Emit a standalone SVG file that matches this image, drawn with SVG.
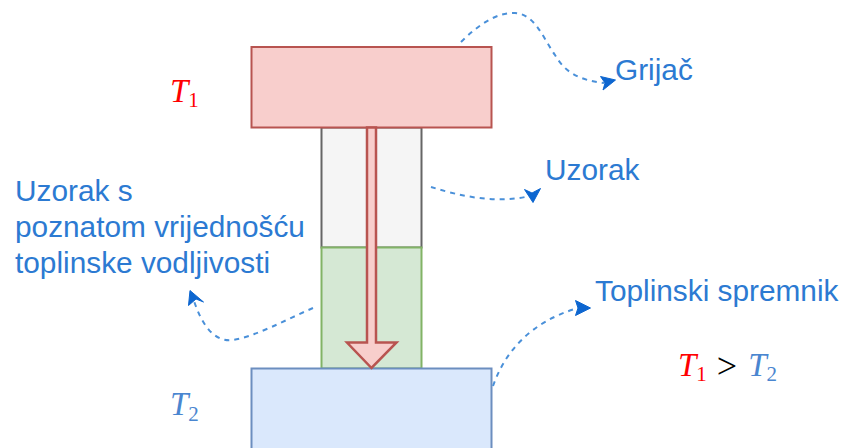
<svg xmlns="http://www.w3.org/2000/svg" width="843" height="448" viewBox="0 0 843 448">
<style>
.lbl{font-family:"Liberation Sans",Arial,sans-serif;font-size:29.8px;fill:#2c7ad2}
.m{font-family:"Liberation Serif",serif;font-style:italic;font-size:33px}
.s{font-style:normal;font-size:21px}
.c{fill:none;stroke:#4a90d9;stroke-width:2;stroke-dasharray:5 5}
.h{fill:#0d66d0;stroke:#0d66d0;stroke-width:1}
.red{fill:#ff0000}.blue{fill:#4a86d0}
</style>
<rect width="843" height="448" fill="#fff"/>
<g id="uzorak"><rect x="321.500" y="127.500" width="100" height="120" fill="#f5f5f5" stroke="#666" stroke-width="2"/></g>
<g id="uzorak-poznati"><rect x="321.500" y="247.500" width="100" height="121" fill="#d5e8d4" stroke="#82b366" stroke-width="2"/></g>
<g id="grijac"><rect x="251.500" y="47" width="240" height="80.500" fill="#f8cecc" stroke="#b85450" stroke-width="2"/></g>
<g id="spremnik"><rect x="251.500" y="368.500" width="240" height="84" fill="#dae8fc" stroke="#6c8ebf" stroke-width="2"/></g>
<g id="toplinski-tok"><path d="M367 127.500H376V342.500H396.500L371.500 368L347 342.500H367Z" fill="#f8cecc" stroke="#b85450" stroke-width="2.500"/></g>
<g id="connectors">
<path class="c" d="M461 42C478 25 497 12 515 13C535 14 543 38 555 55C565 72 578 80 604 83"/>
<path class="h" d="M615.500 80L603 90L605 83L600.500 76.500Z"/>
<path class="c" d="M431 187C460 196 495 204 530 196"/>
<path class="h" d="M533 202.500L524.500 189.500L532 193L540.500 188.500Z"/>
<path class="c" d="M313 308C285 320 255 337 232 340C214 342 202 325 194 301"/>
<path class="h" d="M190 290.500L203.500 302L196 299L188.500 305.500Z"/>
<path class="c" d="M493 386C505 352 530 322 578 308"/>
<path class="h" d="M590.500 308L575.500 315.500L578 308L575.500 300.500Z"/>
</g>
<g id="labels">
<text class="lbl" x="615" y="80">Grijač</text>
<text class="lbl" x="545" y="180">Uzorak</text>
<text class="lbl" x="15" y="201">Uzorak s</text>
<text class="lbl" x="15" y="237">poznatom vrijednošću</text>
<text class="lbl" x="15" y="273">toplinske vodljivosti</text>
<text class="lbl" x="595" y="301">Toplinski spremnik</text>
<text class="m red" x="170" y="102">T<tspan class="s" dy="5">1</tspan></text>
<text class="m blue" x="170" y="415">T<tspan class="s" dy="6">2</tspan></text>
<text class="m" x="678" y="376"><tspan class="red">T</tspan><tspan class="s red" dy="5">1</tspan><tspan fill="#000" font-style="normal" font-size="36" dx="10" dy="-3">&gt;</tspan><tspan class="blue" dx="11" dy="-2">T</tspan><tspan class="s blue" dy="5">2</tspan></text>
</g>
</svg>
